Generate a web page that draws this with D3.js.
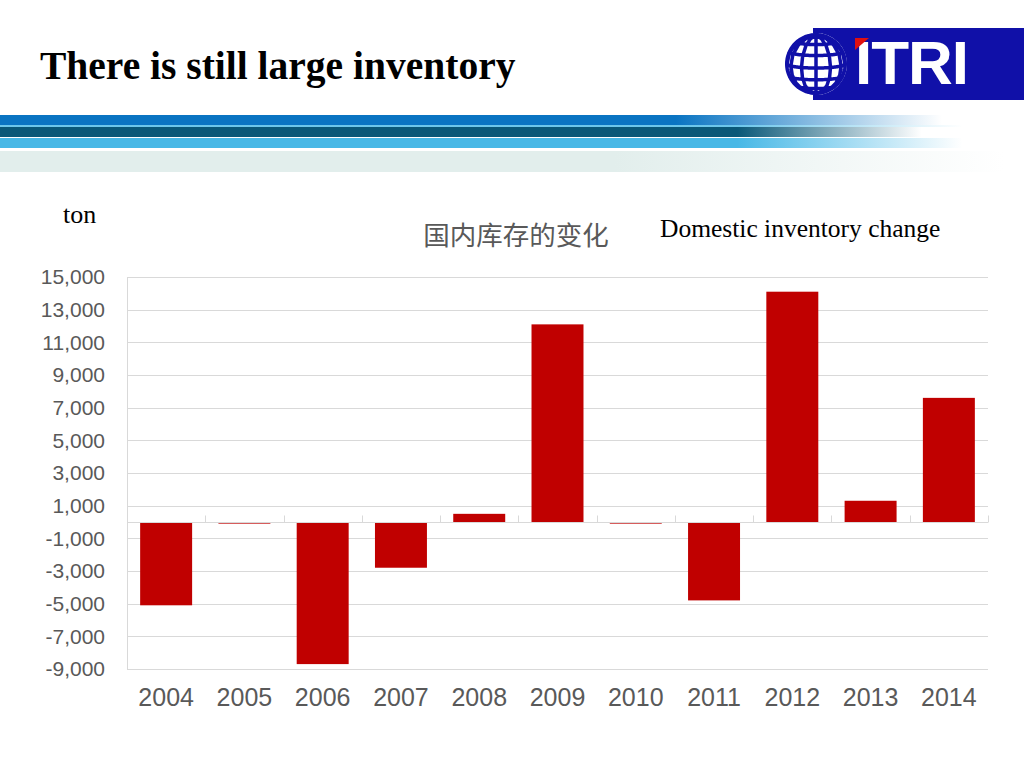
<!DOCTYPE html>
<html>
<head>
<meta charset="utf-8">
<script src="https://cdn.jsdelivr.net/npm/d3@7"></script>
<style>
  body { margin: 0; background: #fff; }
  svg { display: block; }
</style>
</head>
<body>
<div id="chart"></div>
<script>
// data
const years = ["2004", "2005", "2006", "2007", "2008", "2009", "2010", "2011", "2012", "2013", "2014"];
const inventoryChange = [-5100, -100, -8700, -2800, 500, 12100, -100, -4800, 14100, 1300, 7600];
const yTicks = [-9000, -7000, -5000, -3000, -1000, 1000, 3000, 5000, 7000, 9000, 11000, 13000, 15000];

const W = 1024, H = 768;
const svg = d3.select("#chart").append("svg")
  .attr("width", W)
  .attr("height", H);

const defs = svg.append("defs");

// header stripes fade out to the right
function fadeGrad(id, color, start, end) {
  const g = defs.append("linearGradient").attr("id", id)
    .attr("x1", 0).attr("x2", 1).attr("y1", 0).attr("y2", 0);
  g.append("stop").attr("offset", 0).attr("stop-color", color).attr("stop-opacity", 1);
  g.append("stop").attr("offset", start).attr("stop-color", color).attr("stop-opacity", 1);
  g.append("stop").attr("offset", end).attr("stop-color", color).attr("stop-opacity", 0);
}
fadeGrad("gBlue", "#0a74c2", 0.66, 0.92);
fadeGrad("gDark", "#0a5878", 0.72, 0.9);
fadeGrad("gLight", "#48b8e6", 0.72, 0.94);
fadeGrad("gPale", "#e2eeec", 0.6, 0.98);

const header = svg.append("g");
header.append("rect").attr("x", 0).attr("y", 151).attr("width", W).attr("height", 21).attr("fill", "url(#gPale)");
header.append("rect").attr("x", 0).attr("y", 115).attr("width", W).attr("height", 10).attr("fill", "url(#gBlue)");
header.append("rect").attr("x", 0).attr("y", 125).attr("width", W).attr("height", 2).attr("fill", "url(#gLight)").attr("opacity", 0.8);
header.append("rect").attr("x", 0).attr("y", 127).attr("width", W).attr("height", 10).attr("fill", "url(#gDark)");
header.append("rect").attr("x", 0).attr("y", 138).attr("width", W).attr("height", 10).attr("fill", "url(#gLight)");

// title
svg.append("text")
  .attr("x", 40).attr("y", 79)
  .style("font-family", "'Liberation Serif', 'Times New Roman', serif")
  .style("font-weight", "bold")
  .style("font-size", "39.5px")
  .attr("fill", "#000")
  .text("There is still large inventory");

// logo
const logo = svg.append("g");
logo.append("rect").attr("x", 813).attr("y", 28).attr("width", 211).attr("height", 72).attr("fill", "#1010a8");
logo.append("text")
  .attr("x", 855).attr("y", 84)
  .attr("transform", "translate(0,0)")
  .style("font-family", "'Liberation Sans', Arial, sans-serif")
  .style("font-weight", "bold")
  .style("font-size", "62px")
  .style("letter-spacing", "-1px")
  .attr("fill", "#fff")
  .text("ITRI");
logo.append("path").attr("d", "M855,38 L869,38 L855,50 Z").attr("fill", "#e01010");

const proj = d3.geoOrthographic().scale(29).translate([816, 64]).rotate([0, -8]);
const geo = d3.geoPath(proj);
logo.append("circle").attr("cx", 816).attr("cy", 64).attr("r", 31).attr("fill", "#fff");
logo.append("path")
  .datum(d3.geoGraticule().step([30, 25])())
  .attr("d", geo)
  .attr("fill", "none").attr("stroke", "#1010a8").attr("stroke-width", 3.5);
logo.append("path")
  .datum({type: "Sphere"})
  .attr("d", geo)
  .attr("fill", "none").attr("stroke", "#1010a8").attr("stroke-width", 4);

// chart
const x = d3.scaleBand()
  .domain(years)
  .range([127, 988])
  .paddingInner(0.336)
  .paddingOuter(0.168);

const y = d3.scaleLinear()
  .domain([-9000, 15000])
  .range([669, 277]);

const grid = svg.append("g");
grid.selectAll("line")
  .data(yTicks)
  .join("line")
  .attr("x1", 127).attr("x2", 988)
  .attr("y1", d => Math.round(y(d)) + 0.5)
  .attr("y2", d => Math.round(y(d)) + 0.5)
  .attr("stroke", "#d9d9d9")
  .attr("stroke-width", 1);

const fmt = d3.format(",");
const yAxis = svg.append("g")
  .attr("transform", "translate(127,0)")
  .call(d3.axisLeft(y).tickValues(yTicks).tickFormat(d => fmt(d).replace("−", "-")).tickSize(0).tickPadding(22));
yAxis.select(".domain").attr("stroke", "#d9d9d9").attr("d", `M0.5,${y(15000)}V${y(-9000)}`);
yAxis.selectAll("text")
  .style("font-family", "'Liberation Sans', Arial, sans-serif")
  .style("font-size", "21px")
  .attr("fill", "#595959");

// bars
svg.append("g")
  .selectAll("rect")
  .data(years.map((yr, i) => ({year: yr, value: inventoryChange[i]})))
  .join("rect")
  .attr("x", d => x(d.year))
  .attr("width", x.bandwidth())
  .attr("y", d => y(Math.max(0, d.value)))
  .attr("height", d => Math.max(1.5, Math.abs(y(d.value) - y(0))))
  .attr("fill", "#c00000");

// zero line with category tick marks
const zeroY = Math.round(y(0)) + 0.5;
const xAxis = svg.append("g");
xAxis.append("line")
  .attr("x1", 127).attr("x2", 988)
  .attr("y1", zeroY).attr("y2", zeroY)
  .attr("stroke", "#d9d9d9");
const bounds = years.map(yr => x(yr) - x.step() * x.paddingInner() / 2).concat([988]);
xAxis.selectAll(".tk")
  .data(bounds)
  .join("line")
  .attr("class", "tk")
  .attr("x1", d => Math.round(d) + 0.5).attr("x2", d => Math.round(d) + 0.5)
  .attr("y1", zeroY - 7).attr("y2", zeroY)
  .attr("stroke", "#d9d9d9");

// category labels along the bottom
svg.append("g")
  .attr("transform", "translate(0,669)")
  .call(d3.axisBottom(x).tickSize(0).tickPadding(19))
  .call(g => g.select(".domain").remove())
  .selectAll("text")
  .style("font-family", "'Liberation Sans', Arial, sans-serif")
  .style("font-size", "25px")
  .attr("fill", "#595959");

// unit and titles
svg.append("text")
  .attr("x", 63).attr("y", 223)
  .style("font-family", "'Liberation Serif', 'Times New Roman', serif")
  .style("font-size", "26px")
  .attr("fill", "#000")
  .text("ton");

svg.append("text")
  .attr("x", 516).attr("y", 245)
  .attr("text-anchor", "middle")
  .style("font-family", "'Noto Sans CJK SC', sans-serif")
  .style("font-size", "26.5px")
  .attr("fill", "#595959")
  .text("国内库存的变化");

svg.append("text")
  .attr("x", 660).attr("y", 237)
  .style("font-family", "'Liberation Serif', 'Times New Roman', serif")
  .style("font-size", "25.5px")
  .attr("fill", "#000")
  .text("Domestic inventory change");
</script>
</body>
</html>
